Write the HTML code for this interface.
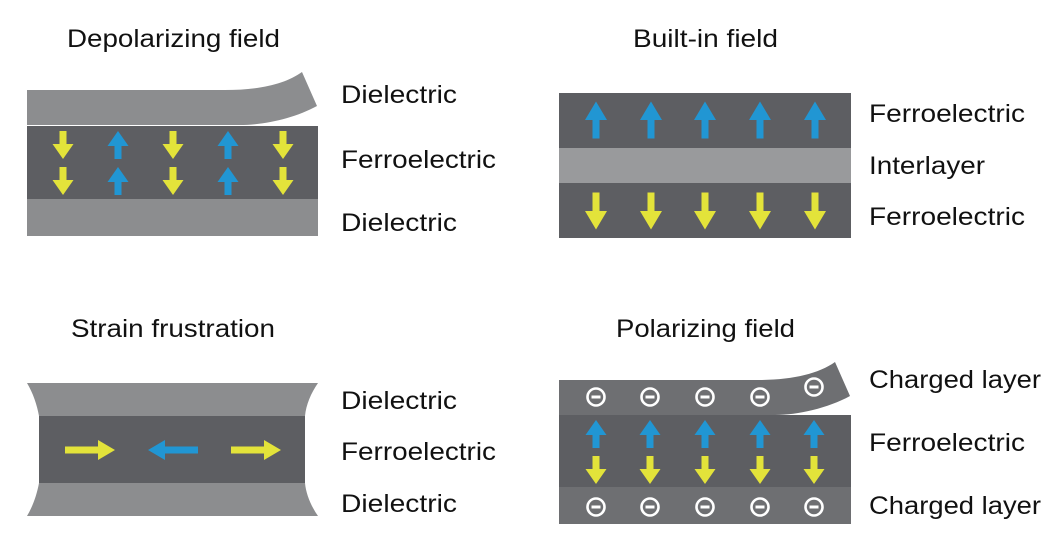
<!DOCTYPE html>
<html><head><meta charset="utf-8"><style>
html,body{margin:0;padding:0;background:#fff;}
svg{display:block;}
text{font-family:"Liberation Sans",sans-serif;font-size:25px;fill:#111;}
</style></head><body>
<svg width="1064" height="544" viewBox="0 0 1064 544" xmlns="http://www.w3.org/2000/svg">
<defs>
<path id="dn" d="M-3.5,-14 H3.5 V-1 H10.5 L0,14 L-10.5,-1 H-3.5 Z"/>
<path id="dnL" d="M-3.5,-18.5 H3.5 V0 H11 L0,18.5 L-11,0 H-3.5 Z"/>
<path id="rt" d="M-25,-3.5 H8 V-10 L25,0 L8,10 V3.5 H-25 Z"/>
<g id="minus"><circle r="8.5" fill="none" stroke="#fff" stroke-width="2.6"/><rect x="-4.5" y="-1.5" width="9" height="3" fill="#fff"/></g>
</defs>

<!-- Panel 1 -->
<text x="67" y="47" textLength="213" lengthAdjust="spacingAndGlyphs">Depolarizing field</text>
<path d="M27,90 H225 C260,90 285,84 302,72 L317,106 C295,118 265,125 240,125 H27 Z" fill="#8c8d8f"/>
<rect x="27" y="126" width="291" height="73" fill="#5d5e62"/>
<rect x="27" y="199" width="291" height="37" fill="#8c8d8f"/>
<g fill="#e3e33a">
<use href="#dn" x="63" y="145"/><use href="#dn" x="63" y="181"/>
<use href="#dn" x="173" y="145"/><use href="#dn" x="173" y="181"/>
<use href="#dn" x="283" y="145"/><use href="#dn" x="283" y="181"/>
</g>
<g fill="#2196d3">
<use href="#dn" transform="translate(118,145) rotate(180)"/><use href="#dn" transform="translate(118,181) rotate(180)"/>
<use href="#dn" transform="translate(228,145) rotate(180)"/><use href="#dn" transform="translate(228,181) rotate(180)"/>
</g>
<text x="341" y="103" textLength="116" lengthAdjust="spacingAndGlyphs">Dielectric</text>
<text x="341" y="168" textLength="155" lengthAdjust="spacingAndGlyphs">Ferroelectric</text>
<text x="341" y="231" textLength="116" lengthAdjust="spacingAndGlyphs">Dielectric</text>

<!-- Panel 2 -->
<text x="633" y="47" textLength="145" lengthAdjust="spacingAndGlyphs">Built-in field</text>
<rect x="559" y="93" width="292" height="55" fill="#5d5e62"/>
<rect x="559" y="148" width="292" height="35" fill="#999a9c"/>
<rect x="559" y="183" width="292" height="55" fill="#5d5e62"/>
<g fill="#2196d3">
<use href="#dnL" transform="translate(596,120) rotate(180)"/>
<use href="#dnL" transform="translate(651,120) rotate(180)"/>
<use href="#dnL" transform="translate(705,120) rotate(180)"/>
<use href="#dnL" transform="translate(760,120) rotate(180)"/>
<use href="#dnL" transform="translate(815,120) rotate(180)"/>
</g>
<g fill="#e3e33a">
<use href="#dnL" x="596" y="211"/><use href="#dnL" x="651" y="211"/><use href="#dnL" x="705" y="211"/><use href="#dnL" x="760" y="211"/><use href="#dnL" x="815" y="211"/>
</g>
<text x="869" y="122" textLength="156" lengthAdjust="spacingAndGlyphs">Ferroelectric</text>
<text x="869" y="174" textLength="116" lengthAdjust="spacingAndGlyphs">Interlayer</text>
<text x="869" y="225" textLength="156" lengthAdjust="spacingAndGlyphs">Ferroelectric</text>

<!-- Panel 3 -->
<text x="71" y="337" textLength="204" lengthAdjust="spacingAndGlyphs">Strain frustration</text>
<path d="M27,383 H318 C311,393 306,405 305,416 H39 C37,405 33,393 27,383 Z" fill="#8c8d8f"/>
<rect x="39" y="416" width="266" height="67" fill="#5d5e62"/>
<path d="M39,483 H305 C306,494 311,506 318,516 H27 C33,506 37,494 39,483 Z" fill="#8c8d8f"/>
<g fill="#e3e33a"><use href="#rt" x="90" y="450"/><use href="#rt" x="256" y="450"/></g>
<use href="#rt" fill="#2196d3" transform="translate(173,450) rotate(180)"/>
<text x="341" y="409" textLength="116" lengthAdjust="spacingAndGlyphs">Dielectric</text>
<text x="341" y="460" textLength="155" lengthAdjust="spacingAndGlyphs">Ferroelectric</text>
<text x="341" y="512" textLength="116" lengthAdjust="spacingAndGlyphs">Dielectric</text>

<!-- Panel 4 -->
<text x="616" y="337" textLength="179" lengthAdjust="spacingAndGlyphs">Polarizing field</text>
<path d="M559,380 H757 C792,380 818,374 835,362 L850,396 C828,408 798,415 775,415 H559 Z" fill="#6e6f72"/>
<rect x="559" y="415" width="292" height="72" fill="#5d5e62"/>
<rect x="559" y="487" width="292" height="37" fill="#6e6f72"/>
<use href="#minus" x="596" y="397"/><use href="#minus" x="650" y="397"/><use href="#minus" x="705" y="397"/><use href="#minus" x="760" y="397"/><use href="#minus" x="814" y="387"/>
<use href="#minus" x="596" y="507"/><use href="#minus" x="650" y="507"/><use href="#minus" x="705" y="507"/><use href="#minus" x="760" y="507"/><use href="#minus" x="814" y="507"/>
<g fill="#2196d3">
<use href="#dn" transform="translate(596,434) rotate(180)"/>
<use href="#dn" transform="translate(650,434) rotate(180)"/>
<use href="#dn" transform="translate(705,434) rotate(180)"/>
<use href="#dn" transform="translate(760,434) rotate(180)"/>
<use href="#dn" transform="translate(814,434) rotate(180)"/>
</g>
<g fill="#e3e33a">
<use href="#dn" x="596" y="470"/><use href="#dn" x="650" y="470"/><use href="#dn" x="705" y="470"/><use href="#dn" x="760" y="470"/><use href="#dn" x="814" y="470"/>
</g>
<text x="869" y="388" textLength="172" lengthAdjust="spacingAndGlyphs">Charged layer</text>
<text x="869" y="451" textLength="156" lengthAdjust="spacingAndGlyphs">Ferroelectric</text>
<text x="869" y="514" textLength="172" lengthAdjust="spacingAndGlyphs">Charged layer</text>
</svg>
</body></html>
